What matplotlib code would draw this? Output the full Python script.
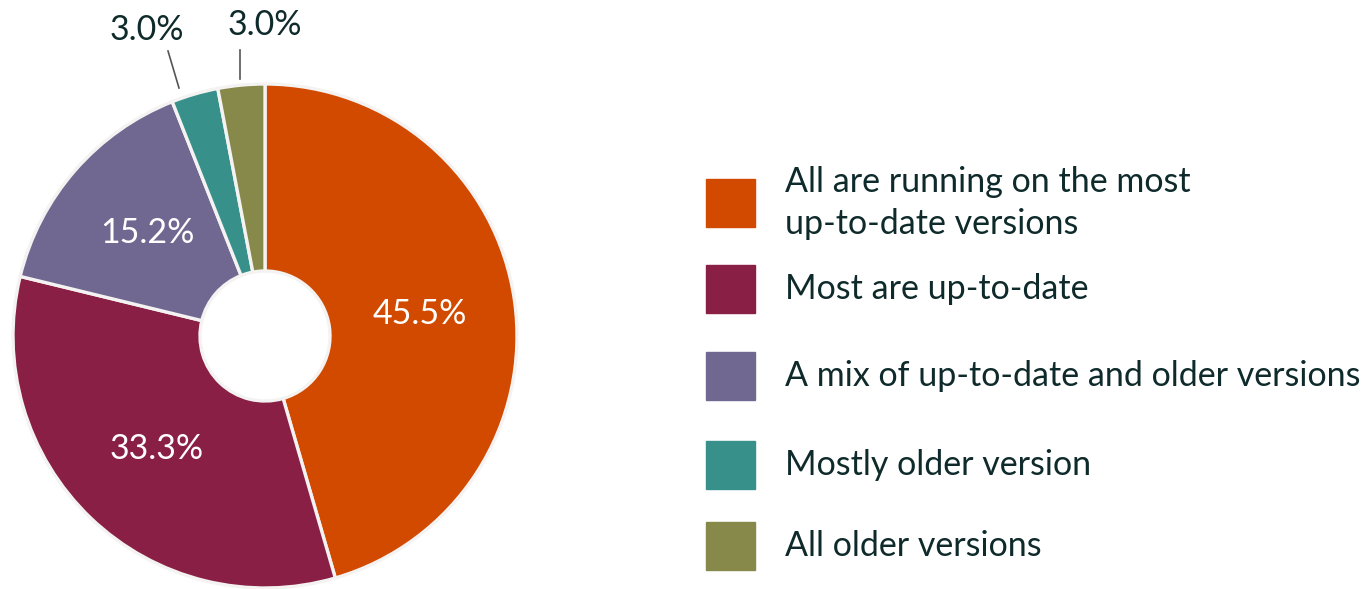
import numpy as np
import matplotlib.pyplot as plt
from matplotlib.patches import Rectangle

plt.rcParams['font.family'] = ['Lato', 'DejaVu Sans']

# --- data ---
categories = ['All are running on the most\nup-to-date versions',
              'Most are up-to-date',
              'A mix of up-to-date and older versions',
              'Mostly older version',
              'All older versions']
values = [45.5, 33.3, 15.2, 3.0, 3.0]
colors = ['#d24a00', '#8a1f46', '#716892', '#37908a', '#86894a']

TEXT = '#0f2a2b'
FS = 24.5

W, H = 1370, 589
fig = plt.figure(figsize=(W / 100, H / 100), dpi=100)

# pie centre (265, 336) px from top, radius 252 px
cx, cy, R = 265, 336, 252
ax = fig.add_axes([(cx - R) / W, (H - cy - R) / H, 2 * R / W, 2 * R / H])

wedges, _ = ax.pie(values, colors=colors, startangle=90, counterclock=False,
                   radius=1.0,
                   wedgeprops=dict(width=1 - 65 / R, edgecolor='#f4f3f2', linewidth=2.4))
ax.set_xlim(-1, 1)
ax.set_ylim(-1, 1)
ax.set_aspect('equal')
ax.axis('off')

# labels inside the big wedges
for w, v in zip(wedges, values):
    if v < 5:
        continue
    ang = np.deg2rad((w.theta1 + w.theta2) / 2)
    r = 0.62
    ax.text(r * np.cos(ang), r * np.sin(ang), f'{v:.1f}%', color='white',
            fontsize=FS, ha='center', va='center')

# small wedges: outside labels with leader lines
def px(x, y):
    return (x - cx) / R, (cy - y) / R

outside = [((147, 30), (168, 51), (179, 88)),
           ((265, 25), (240, 50), (240, 79))]
small = [v for v in values if v < 5]
for v, (lab, p0, p1) in zip(small, outside):
    x0, y0 = px(*p0)
    x1, y1 = px(*p1)
    ax.plot([x0, x1], [y0, y1], color='#555555', lw=1.2, clip_on=False)
    lx, ly = px(*lab)
    ax.text(lx, ly, f'{v:.1f}%', color=TEXT, fontsize=FS, ha='center',
            va='center', clip_on=False)

# legend drawn by hand in pixel coordinates
leg_y = [203, 289, 376, 465, 546]
for lab, col, yc in zip(categories, colors, leg_y):
    fig.patches.append(Rectangle((706 / W, (H - yc - 24) / H), 49 / W, 48 / H,
                                 transform=fig.transFigure, color=col))
    fig.text(785 / W, (H - yc) / H, lab, color=TEXT, fontsize=FS,
             ha='left', va='center', linespacing=1.35)

fig.savefig('out.png', dpi=100)
